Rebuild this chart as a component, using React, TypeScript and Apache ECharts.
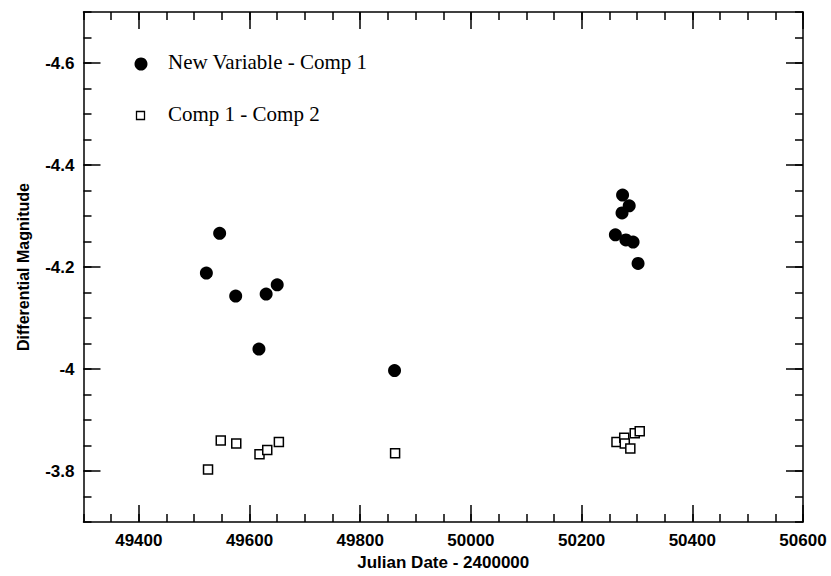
import React, { useEffect, useRef } from "react";
import * as echarts from "echarts";

// Julian Date - 2400000 and differential magnitude
const newVarDates = [49522, 49546, 49575, 49617, 49630, 49650, 49862, 50261, 50273, 50274, 50280, 50286, 50293, 50302];
const newVarMags = [-4.188, -4.266, -4.143, -4.039, -4.147, -4.165, -3.997, -4.263, -4.306, -4.341, -4.253, -4.32, -4.249, -4.207];

const compDates = [49525, 49548, 49576, 49618, 49632, 49653, 49863, 50263, 50277, 50278, 50288, 50296, 50305];
const compMags = [-3.803, -3.86, -3.854, -3.833, -3.841, -3.857, -3.835, -3.857, -3.865, -3.854, -3.844, -3.874, -3.878];

const xMajorTicks = [49400, 49600, 49800, 50000, 50200, 50400, 50600];
const yMajorTicks = [-4.6, -4.4, -4.2, -4, -3.8];

const X_MIN = 49300;
const X_MAX = 50600;
const Y_MIN = -4.7;
const Y_MAX = -3.7;

const seriesNames = ["New Variable - Comp 1", "Comp 1 - Comp 2"];

export default function App() {
  const ref = useRef<HTMLDivElement>(null);

  useEffect(() => {
    if (!ref.current) return;
    const chart = echarts.init(ref.current, null, { renderer: "svg" });
    const black = "#000";
    const labelFont = {
      fontFamily: "Liberation Sans",
      fontWeight: "bold" as const,
      fontSize: 17,
      color: black,
    };
    const lineStyle = { color: black, width: 1.5 };

    const majorX = (position: "bottom" | "top", withLabels: boolean) => ({
      type: "value",
      position,
      min: X_MIN,
      max: X_MAX,
      axisLine: { show: true, onZero: false, lineStyle },
      axisTick: { show: true, inside: true, length: 17, lineStyle, customValues: xMajorTicks },
      axisLabel: {
        show: withLabels,
        customValues: xMajorTicks,
        formatter: (v: number) => String(v),
        margin: 10,
        ...labelFont,
      },
      splitLine: { show: false },
      ...(withLabels
        ? {
            name: "Julian Date - 2400000",
            nameLocation: "middle",
            nameGap: 31,
            nameTextStyle: { ...labelFont, fontSize: 17 },
          }
        : {}),
    });
    const minorX = (position: "bottom" | "top") => ({
      type: "value",
      position,
      min: X_MIN,
      max: X_MAX,
      interval: 50,
      axisLine: { show: false },
      axisTick: { show: true, inside: true, length: 8, lineStyle },
      axisLabel: { show: false },
      splitLine: { show: false },
    });
    const majorY = (position: "left" | "right", withLabels: boolean) => ({
      type: "value",
      position,
      inverse: true,
      min: Y_MIN,
      max: Y_MAX,
      axisLine: { show: true, onZero: false, lineStyle },
      axisTick: { show: true, inside: true, length: 17, lineStyle, customValues: yMajorTicks },
      axisLabel: {
        show: withLabels,
        customValues: yMajorTicks,
        formatter: (v: number) => String(v),
        margin: 9,
        ...labelFont,
      },
      splitLine: { show: false },
      ...(withLabels
        ? {
            name: "Differential Magnitude",
            nameLocation: "middle",
            nameGap: 52,
            nameTextStyle: { ...labelFont, fontSize: 16 },
          }
        : {}),
    });
    const minorY = (position: "left" | "right") => ({
      type: "value",
      position,
      inverse: true,
      min: Y_MIN,
      max: Y_MAX,
      interval: 0.05,
      axisLine: { show: false },
      axisTick: { show: true, inside: true, length: 8, lineStyle },
      axisLabel: { show: false },
      splitLine: { show: false },
    });

    chart.setOption({
      animation: false,
      backgroundColor: "#fff",
      grid: { left: 83.5, right: 28, top: 12, bottom: 54, containLabel: false },
      xAxis: [majorX("bottom", true), minorX("bottom"), majorX("top", false), minorX("top")],
      yAxis: [majorY("left", true), minorY("left"), majorY("right", false), minorY("right")],
      series: [
        {
          name: seriesNames[0],
          type: "scatter",
          xAxisIndex: 0,
          yAxisIndex: 0,
          symbol: "circle",
          symbolSize: 13,
          itemStyle: { color: black, opacity: 1 },
          data: newVarDates.map((d, i) => [d, newVarMags[i]]),
        },
        {
          name: seriesNames[1],
          type: "scatter",
          xAxisIndex: 0,
          yAxisIndex: 0,
          symbol: "rect",
          symbolSize: 9,
          itemStyle: { color: "#fff", borderColor: black, borderWidth: 1.5, opacity: 1 },
          data: compDates.map((d, i) => [d, compMags[i]]),
        },
      ],
      graphic: [
        { type: "circle", shape: { cx: 141, cy: 64, r: 6.5 }, style: { fill: black } },
        {
          type: "text",
          x: 168,
          y: 62,
          style: {
            text: seriesNames[0],
            font: '21px "Liberation Serif"',
            fill: black,
            verticalAlign: "middle",
          },
        },
        {
          type: "rect",
          shape: { x: 136.5, y: 111.5, width: 8, height: 8 },
          style: { fill: "#fff", stroke: black, lineWidth: 1.3 },
        },
        {
          type: "text",
          x: 168,
          y: 114,
          style: {
            text: seriesNames[1],
            font: '21px "Liberation Serif"',
            fill: black,
            verticalAlign: "middle",
          },
        },
      ],
    });
    return () => chart.dispose();
  }, []);

  return (
    <div
      ref={ref}
      style={{ position: "fixed", left: 0, top: 0, width: 831, height: 576, background: "#fff" }}
    />
  );
}
